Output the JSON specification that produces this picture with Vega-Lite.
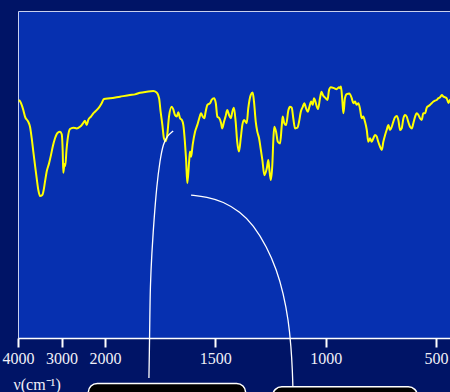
{
  "$schema": "https://vega.github.io/schema/vega-lite/v6.json",
  "autosize": {"type": "none"},
  "padding": {"left": 18, "top": 11, "right": 0, "bottom": 54},
  "width": 432,
  "height": 327,
  "background": "#001466",
  "config": {
    "view": {"fill": "#0630b0", "stroke": "#c8d0ee", "strokeWidth": 1}
  },
  "datasets": {
    "spec": [
      {"w": 3977, "t": 72.8}, {"w": 3931, "t": 71.8}, {"w": 3878, "t": 69.7}, {"w": 3839, "t": 67.7},
      {"w": 3763, "t": 66.1}, {"w": 3724, "t": 64.6}, {"w": 3685, "t": 61.1}, {"w": 3648, "t": 57.0},
      {"w": 3609, "t": 52.9}, {"w": 3570, "t": 48.8}, {"w": 3533, "t": 45.3}, {"w": 3494, "t": 43.4},
      {"w": 3441, "t": 43.7}, {"w": 3418, "t": 44.7}, {"w": 3379, "t": 47.8}, {"w": 3340, "t": 50.9},
      {"w": 3287, "t": 53.4}, {"w": 3241, "t": 56.0}, {"w": 3202, "t": 58.5}, {"w": 3149, "t": 61.1},
      {"w": 3087, "t": 62.8}, {"w": 3034, "t": 63.1}, {"w": 2995, "t": 62.3}, {"w": 2972, "t": 57.0},
      {"w": 2959, "t": 50.5}, {"w": 2931, "t": 53.2}, {"w": 2913, "t": 52.6}, {"w": 2885, "t": 57.5},
      {"w": 2844, "t": 62.1}, {"w": 2805, "t": 63.9}, {"w": 2729, "t": 64.3}, {"w": 2650, "t": 64.1},
      {"w": 2575, "t": 64.6}, {"w": 2536, "t": 65.1}, {"w": 2499, "t": 65.8}, {"w": 2460, "t": 66.4},
      {"w": 2421, "t": 65.1}, {"w": 2384, "t": 66.7}, {"w": 2322, "t": 67.7}, {"w": 2269, "t": 68.7},
      {"w": 2230, "t": 69.2}, {"w": 2154, "t": 70.2}, {"w": 2076, "t": 71.8}, {"w": 2023, "t": 73.1},
      {"w": 1977, "t": 73.3}, {"w": 1932, "t": 73.8}, {"w": 1887, "t": 74.3}, {"w": 1864, "t": 74.5},
      {"w": 1841, "t": 75.0}, {"w": 1811, "t": 75.3}, {"w": 1781, "t": 75.5}, {"w": 1766, "t": 75.1},
      {"w": 1755, "t": 73.3}, {"w": 1748, "t": 69.2}, {"w": 1740, "t": 65.1}, {"w": 1733, "t": 61.1},
      {"w": 1725, "t": 60.2}, {"w": 1718, "t": 62.1}, {"w": 1710, "t": 67.7}, {"w": 1698, "t": 70.7},
      {"w": 1691, "t": 70.0}, {"w": 1683, "t": 68.2}, {"w": 1675, "t": 67.7}, {"w": 1668, "t": 69.0},
      {"w": 1660, "t": 67.2}, {"w": 1652, "t": 66.7}, {"w": 1645, "t": 65.1}, {"w": 1638, "t": 60.0},
      {"w": 1633, "t": 55.0}, {"w": 1627, "t": 47.3}, {"w": 1619, "t": 53.9}, {"w": 1615, "t": 57.0},
      {"w": 1610, "t": 55.4}, {"w": 1603, "t": 59.0}, {"w": 1592, "t": 63.1}, {"w": 1582, "t": 65.1},
      {"w": 1573, "t": 67.2}, {"w": 1565, "t": 68.7}, {"w": 1557, "t": 67.7}, {"w": 1550, "t": 67.2},
      {"w": 1544, "t": 69.2}, {"w": 1536, "t": 71.3}, {"w": 1524, "t": 71.8}, {"w": 1517, "t": 72.8},
      {"w": 1506, "t": 73.3}, {"w": 1498, "t": 71.8}, {"w": 1491, "t": 67.7}, {"w": 1482, "t": 67.2},
      {"w": 1474, "t": 65.7}, {"w": 1469, "t": 64.1}, {"w": 1461, "t": 66.1}, {"w": 1454, "t": 67.7},
      {"w": 1446, "t": 69.7}, {"w": 1438, "t": 68.2}, {"w": 1430, "t": 67.2}, {"w": 1423, "t": 69.2},
      {"w": 1416, "t": 70.4}, {"w": 1408, "t": 66.1}, {"w": 1401, "t": 60.0}, {"w": 1393, "t": 57.0},
      {"w": 1385, "t": 61.1}, {"w": 1378, "t": 65.1}, {"w": 1370, "t": 66.7}, {"w": 1358, "t": 65.7},
      {"w": 1351, "t": 70.2}, {"w": 1340, "t": 74.3}, {"w": 1331, "t": 75.1}, {"w": 1325, "t": 72.3},
      {"w": 1317, "t": 66.1}, {"w": 1310, "t": 63.1}, {"w": 1302, "t": 61.1}, {"w": 1295, "t": 58.0},
      {"w": 1287, "t": 54.4}, {"w": 1278, "t": 49.8}, {"w": 1267, "t": 51.9}, {"w": 1260, "t": 54.4},
      {"w": 1256, "t": 51.9}, {"w": 1249, "t": 48.3}, {"w": 1242, "t": 52.9}, {"w": 1237, "t": 61.1},
      {"w": 1233, "t": 64.6}, {"w": 1225, "t": 63.1}, {"w": 1217, "t": 60.0}, {"w": 1207, "t": 59.5},
      {"w": 1199, "t": 65.1}, {"w": 1195, "t": 67.7}, {"w": 1188, "t": 65.7}, {"w": 1180, "t": 65.1},
      {"w": 1169, "t": 69.7}, {"w": 1162, "t": 70.7}, {"w": 1154, "t": 70.4}, {"w": 1147, "t": 67.2},
      {"w": 1139, "t": 64.1}, {"w": 1128, "t": 64.3}, {"w": 1121, "t": 66.1}, {"w": 1113, "t": 69.2},
      {"w": 1104, "t": 70.7}, {"w": 1097, "t": 71.8}, {"w": 1089, "t": 70.2}, {"w": 1081, "t": 69.2},
      {"w": 1074, "t": 70.7}, {"w": 1066, "t": 72.3}, {"w": 1059, "t": 71.3}, {"w": 1053, "t": 73.3},
      {"w": 1035, "t": 70.0}, {"w": 1026, "t": 73.3}, {"w": 1019, "t": 75.3}, {"w": 1013, "t": 74.3},
      {"w": 1000, "t": 73.3}, {"w": 992, "t": 72.8}, {"w": 985, "t": 75.8}, {"w": 977, "t": 76.7},
      {"w": 962, "t": 76.4}, {"w": 951, "t": 76.1}, {"w": 939, "t": 76.7}, {"w": 935, "t": 76.4},
      {"w": 931, "t": 76.9}, {"w": 925, "t": 72.8}, {"w": 920, "t": 68.7}, {"w": 913, "t": 73.3},
      {"w": 905, "t": 74.6}, {"w": 893, "t": 74.8}, {"w": 882, "t": 73.3}, {"w": 875, "t": 71.8},
      {"w": 867, "t": 72.3}, {"w": 860, "t": 71.3}, {"w": 852, "t": 71.8}, {"w": 845, "t": 70.2},
      {"w": 837, "t": 67.2}, {"w": 830, "t": 67.7}, {"w": 822, "t": 66.1}, {"w": 814, "t": 63.6},
      {"w": 807, "t": 60.0}, {"w": 799, "t": 61.1}, {"w": 792, "t": 60.0}, {"w": 784, "t": 61.1},
      {"w": 777, "t": 62.1}, {"w": 769, "t": 61.6}, {"w": 762, "t": 60.0}, {"w": 754, "t": 58.5},
      {"w": 746, "t": 57.5}, {"w": 739, "t": 60.0}, {"w": 731, "t": 62.1}, {"w": 724, "t": 63.6},
      {"w": 716, "t": 65.1}, {"w": 709, "t": 63.6}, {"w": 701, "t": 64.6}, {"w": 694, "t": 66.1},
      {"w": 686, "t": 67.5}, {"w": 678, "t": 67.9}, {"w": 671, "t": 66.7}, {"w": 663, "t": 63.6},
      {"w": 656, "t": 64.1}, {"w": 648, "t": 67.2}, {"w": 641, "t": 68.2}, {"w": 633, "t": 67.7},
      {"w": 626, "t": 66.1}, {"w": 618, "t": 64.6}, {"w": 610, "t": 64.1}, {"w": 603, "t": 65.7},
      {"w": 595, "t": 67.7}, {"w": 588, "t": 68.7}, {"w": 580, "t": 68.2}, {"w": 573, "t": 67.2},
      {"w": 565, "t": 66.7}, {"w": 558, "t": 68.7}, {"w": 550, "t": 68.7}, {"w": 542, "t": 70.5},
      {"w": 535, "t": 70.9}, {"w": 527, "t": 71.3}, {"w": 520, "t": 71.8}, {"w": 512, "t": 72.3},
      {"w": 505, "t": 72.6}, {"w": 497, "t": 72.8}, {"w": 490, "t": 73.3}, {"w": 482, "t": 73.6},
      {"w": 474, "t": 74.3}, {"w": 467, "t": 73.8}, {"w": 459, "t": 73.6}, {"w": 452, "t": 73.3},
      {"w": 444, "t": 71.9}, {"w": 437, "t": 72.8}, {"w": 428, "t": 73.1}
    ],
    "curves": [
      {"c": "a", "k": 1, "w": 1691, "t": 63.3}, {"c": "a", "k": 2, "w": 1718, "t": 61.8},
      {"c": "a", "k": 3, "w": 1736, "t": 59.5}, {"c": "a", "k": 4, "w": 1751, "t": 54.4},
      {"c": "a", "k": 5, "w": 1766, "t": 46.3}, {"c": "a", "k": 6, "w": 1778, "t": 36.1},
      {"c": "a", "k": 7, "w": 1788, "t": 26.0}, {"c": "a", "k": 8, "w": 1795, "t": 15.7},
      {"c": "a", "k": 9, "w": 1797, "t": 5.5}, {"c": "a", "k": 10, "w": 1799, "t": -4.6},
      {"c": "a", "k": 11, "w": 1801, "t": -12.2},
      {"c": "b", "k": 1, "w": 1610, "t": 43.7}, {"c": "b", "k": 2, "w": 1539, "t": 43.2},
      {"c": "b", "k": 3, "w": 1464, "t": 41.7}, {"c": "b", "k": 4, "w": 1388, "t": 38.6},
      {"c": "b", "k": 5, "w": 1328, "t": 34.6}, {"c": "b", "k": 6, "w": 1267, "t": 27.9},
      {"c": "b", "k": 7, "w": 1222, "t": 20.8}, {"c": "b", "k": 8, "w": 1192, "t": 13.7},
      {"c": "b", "k": 9, "w": 1169, "t": 5.5}, {"c": "b", "k": 10, "w": 1157, "t": -2.7},
      {"c": "b", "k": 11, "w": 1151, "t": -9.8}, {"c": "b", "k": 12, "w": 1148, "t": -16.5},
      {"c": "b", "k": 13, "w": 1147, "t": -20.5}
    ],
    "boxes": [
      {"w1": 2384, "w2": 1363, "t1": -13.9, "t2": -30},
      {"w1": 1240, "w2": 585, "t1": -14.9, "t2": -30}
    ]
  },
  "encoding": {
    "x": {
      "field": "w", "type": "quantitative",
      "scale": {"domain": [4000, 2000, 437], "range": [0, 87, 432]},
      "axis": {
        "values": [4000, 3000, 2000, 1500, 1000, 500],
        "format": "d",
        "grid": false,
        "domainColor": "#ffffff", "domainWidth": 1.5,
        "tickColor": "#ffffff", "tickWidth": 2, "tickSize": 9,
        "labelColor": "#f0f0f8", "labelFont": "Liberation Serif", "labelFontSize": 16,
        "labelPadding": 3, "labelDx": 5, "labelFlush": false, "labelOverlap": false,
        "title": "ν(cm⁻¹)", "titleColor": "#f0f0f8", "titleFont": "Liberation Serif",
        "titleFontSize": 16, "titleFontWeight": "normal",
        "titleAnchor": "start", "titleAlign": "left", "titleBaseline": "alphabetic",
        "titleX": -5, "titleY": 51
      }
    },
    "y": {
      "field": "t", "type": "quantitative",
      "scale": {"domain": [0, 100]},
      "axis": null
    }
  },
  "layer": [
    {
      "data": {"name": "spec"},
      "mark": {"type": "line", "color": "#ffff00", "strokeWidth": 2, "interpolate": "monotone", "clip": true}
    },
    {
      "data": {"name": "curves"},
      "mark": {"type": "line", "color": "#ffffff", "strokeWidth": 1.3, "interpolate": "basis", "clip": false},
      "encoding": {
        "detail": {"field": "c"},
        "order": {"field": "k", "type": "quantitative"}
      }
    },
    {
      "data": {"name": "boxes"},
      "mark": {"type": "rect", "fill": "#000000", "stroke": "#ffffff", "strokeWidth": 1.5, "cornerRadius": 9, "clip": false},
      "encoding": {
        "x": {"field": "w1", "type": "quantitative"},
        "x2": {"field": "w2"},
        "y": {"field": "t1", "type": "quantitative"},
        "y2": {"field": "t2"}
      }
    }
  ]
}
